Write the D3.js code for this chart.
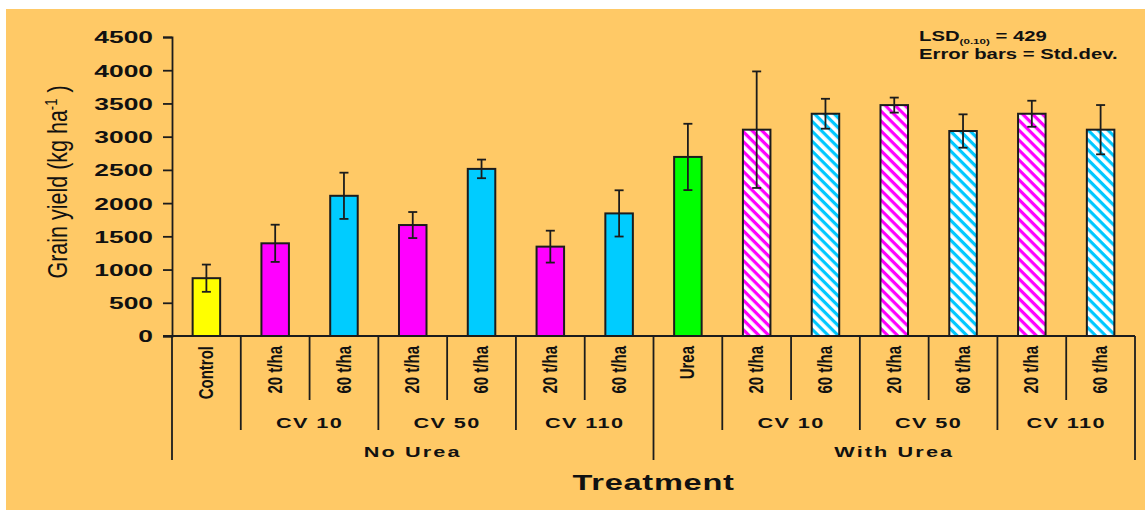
<!DOCTYPE html>
<html>
<head>
<meta charset="utf-8">
<script src="https://cdn.jsdelivr.net/npm/d3@7"></script>
<style>
  html, body { margin: 0; padding: 0; background: #ffffff; }
  svg { display: block; }
  text { font-family: "Liberation Sans", Arial, sans-serif; fill: #111; }
</style>
</head>
<body>
<svg id="chart" width="1145" height="510"></svg>
<script>
// Treatments, left to right
const categories = ["Control", "20 t/ha", "60 t/ha", "20 t/ha", "60 t/ha", "20 t/ha", "60 t/ha",
                    "Urea", "20 t/ha", "60 t/ha", "20 t/ha", "60 t/ha", "20 t/ha", "60 t/ha"];
// Mean grain yield (kg/ha) and standard deviation per treatment
const yieldMean = [870, 1395, 2110, 1670, 2515, 1345, 1845, 2695, 3105, 3345, 3475, 3085, 3345, 3105];
const yieldSd   = [205, 280, 348, 196, 140, 240, 348, 499, 877, 225, 113, 251, 196, 371];
// Fill style key per treatment
const fillKey = ["control", "cv20", "cv60", "cv20", "cv60", "cv20", "cv60",
                 "urea", "cv20u", "cv60u", "cv20u", "cv60u", "cv20u", "cv60u"];
// Compost subgroups (first index, last index)
const subGroups = [
  { label: "CV 10", first: 1, last: 2 }, { label: "CV 50", first: 3, last: 4 }, { label: "CV 110", first: 5, last: 6 },
  { label: "CV 10", first: 8, last: 9 }, { label: "CV 50", first: 10, last: 11 }, { label: "CV 110", first: 12, last: 13 }
];
// Urea groups
const topGroups = [
  { label: "No Urea", first: 0, last: 6 },
  { label: "With Urea", first: 7, last: 13 }
];
const yTicks = [0, 500, 1000, 1500, 2000, 2500, 3000, 3500, 4000, 4500];
const notes = { lsd: 429, level: "(0.10)", bars: "Error bars = Std.dev." };

const svg = d3.select("#chart");
const W = 1145, H = 510;
const x0 = 172, x1 = 1135, yTop = 37, yBase = 336;
const ink = "#1c1c1c";

// Background panel
svg.append("rect").attr("x", 6).attr("y", 9).attr("width", W - 6).attr("height", H - 9).attr("fill", "#FFC966");

// Hatched fills for the urea-treated compost bars
const defs = svg.append("defs");
function hatch(id, color) {
  const p = defs.append("pattern").attr("id", id).attr("patternUnits", "userSpaceOnUse")
    .attr("width", 7).attr("height", 7).attr("patternTransform", "rotate(45)");
  p.append("rect").attr("width", 7).attr("height", 7).attr("fill", "#ffffff");
  p.append("rect").attr("x", 0).attr("y", 0).attr("width", 7).attr("height", 3.2).attr("fill", color);
}
hatch("hatchMagenta", "#FF00FF");
hatch("hatchCyan", "#00C8FF");
const fills = {
  control: "#FFFF00", cv20: "#FF00FF", cv60: "#00CCFF", urea: "#00FF00",
  cv20u: "url(#hatchMagenta)", cv60u: "url(#hatchCyan)"
};

const idx = categories.map((d, i) => i);
const xBand = d3.scaleBand().domain(idx).range([x0, x1]).padding(0);
const y = d3.scaleLinear().domain([0, 4500]).range([yBase, yTop]);
const barW = xBand.bandwidth() * 0.4;
const cx = i => xBand(i) + xBand.bandwidth() / 2;
const edge = k => x0 + xBand.step() * k;

// Stretched text helper (wide lettering)
function wideText(g, x, yy, str, size, weight, anchor, sx, rot) {
  return g.append("text")
    .attr("transform", `translate(${x},${yy}) scale(${sx},1)` + (rot ? ` rotate(${rot})` : ""))
    .attr("text-anchor", anchor).attr("font-size", size).attr("font-weight", weight).text(str);
}

// Y axis
const yAxis = svg.append("g").attr("transform", `translate(${x0},0)`)
  .call(d3.axisLeft(y).tickValues(yTicks).tickSize(9).tickPadding(0).tickFormat(d3.format("d")));
yAxis.select(".domain").attr("stroke", ink).attr("stroke-width", 1.8);
yAxis.selectAll(".tick line").attr("stroke", ink).attr("stroke-width", 1.8);
yAxis.selectAll(".tick text")
  .attr("x", 0).attr("dy", "0.36em")
  .attr("transform", "translate(-19,0) scale(1.6,1)")
  .attr("font-size", 16.5).attr("font-weight", "bold").attr("fill", "#222")
  .attr("font-family", "Liberation Sans, Arial, sans-serif");

// Baseline
svg.append("line").attr("x1", x0 - 9).attr("x2", x1).attr("y1", yBase).attr("y2", yBase)
  .attr("stroke", ink).attr("stroke-width", 1.8);

// Bars
svg.append("g").selectAll("rect").data(idx).join("rect")
  .attr("x", i => cx(i) - barW / 2).attr("width", barW)
  .attr("y", i => y(yieldMean[i])).attr("height", i => yBase - y(yieldMean[i]))
  .attr("fill", i => fills[fillKey[i]]).attr("stroke", ink).attr("stroke-width", 2);

// Error bars (± one standard deviation)
const eb = svg.append("g").attr("stroke", ink).attr("stroke-width", 1.8);
idx.forEach(i => {
  const hi = y(yieldMean[i] + yieldSd[i]), lo = y(yieldMean[i] - yieldSd[i]);
  eb.append("line").attr("x1", cx(i)).attr("x2", cx(i)).attr("y1", hi).attr("y2", lo);
  eb.append("line").attr("x1", cx(i) - 4.5).attr("x2", cx(i) + 4.5).attr("y1", hi).attr("y2", hi);
  eb.append("line").attr("x1", cx(i) - 4.5).attr("x2", cx(i) + 4.5).attr("y1", lo).attr("y2", lo);
});

// Hierarchical category axis: separator lines
const topEdges = new Set(topGroups.flatMap(g => [g.first, g.last + 1]));
const subEdges = new Set(subGroups.flatMap(g => [g.first, g.last + 1]));
const sep = svg.append("g").attr("stroke", ink).attr("stroke-width", 1.8);
d3.range(0, categories.length + 1).forEach(k => {
  const bottom = topEdges.has(k) ? 460 : subEdges.has(k) ? 430 : 400;
  sep.append("line").attr("x1", edge(k)).attr("x2", edge(k)).attr("y1", yBase).attr("y2", bottom);
});

// Category labels (rotated)
const labG = svg.append("g");
idx.forEach(i => {
  labG.append("text")
    .attr("transform", `translate(${cx(i) - 1},346) scale(1.4,1) rotate(-90)`)
    .attr("text-anchor", "end").attr("dy", "0.36em")
    .attr("font-size", 15).attr("font-weight", "bold").text(categories[i]);
});

// Subgroup labels
subGroups.forEach(g => {
  wideText(svg, (edge(g.first) + edge(g.last + 1)) / 2, 428, g.label, 15.5, "bold", "middle", 1.4)
    .attr("letter-spacing", 1).attr("fill", "#2a2a2a");
});
// Urea group labels
topGroups.forEach(g => {
  wideText(svg, (edge(g.first) + edge(g.last + 1)) / 2, 457, g.label, 15.5, "bold", "middle", 1.4)
    .attr("letter-spacing", 1.5).attr("fill", "#2a2a2a");
});

// Axis titles
wideText(svg, (x0 + x1) / 2, 490, "Treatment", 22, "bold", "middle", 1.48).attr("letter-spacing", 0.5);
const yl = svg.append("text")
  .attr("transform", "translate(67,182) scale(1.3,1) rotate(-90)")
  .attr("text-anchor", "middle").attr("font-size", 21.5);
yl.append("tspan").text("Grain yield (kg ha");
yl.append("tspan").attr("font-size", 13).attr("dy", -8).text("-1");
yl.append("tspan").attr("dy", 8).text(" )");

// Notes
const n1 = svg.append("text").attr("transform", "translate(919,41) scale(1.45,1)")
  .attr("font-size", 14).attr("font-weight", "bold").attr("fill", "#222");
n1.append("tspan").text("LSD");
n1.append("tspan").attr("font-size", 8).attr("dy", 3).text(notes.level);
n1.append("tspan").attr("dy", -3).text(" = " + notes.lsd);
wideText(svg, 919, 59, notes.bars, 14, "bold", "start", 1.45).attr("fill", "#222");
</script>
</body>
</html>
